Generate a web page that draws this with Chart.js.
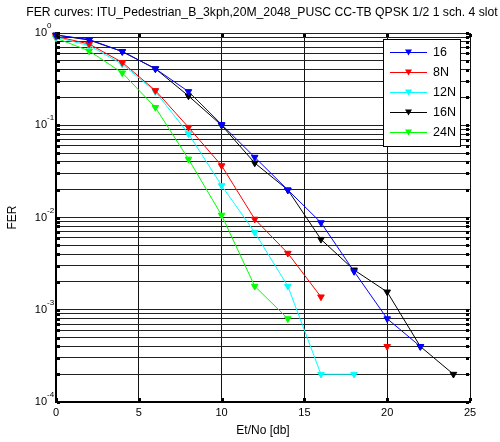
<!DOCTYPE html>
<html>
<head>
<meta charset="utf-8">
<script src="https://cdn.jsdelivr.net/npm/chart.js@4.4.0/dist/chart.umd.min.js"></script>
<style>
  html, body { margin: 0; padding: 0; background: #fff; }
  #wrap { width: 500px; height: 442px; }
</style>
</head>
<body>
<div id="wrap"><canvas id="fer" width="500" height="442"></canvas></div>
<script>
// Et/No points (dB)
const etno = [0, 2, 4, 6, 8, 10, 12, 14, 16, 18, 20, 22, 24];

// FER, null = no point
const fer16  = [0.95, 0.85, 0.63, 0.41, 0.232, 0.102, 0.045, 0.0199, 0.0088, 0.0026, 0.0008, 0.0004, null];
const fer8N  = [0.92, 0.76, 0.48, 0.238, 0.095, 0.0365, 0.0096, 0.0041, 0.00138, null, 0.0004, null, null];
const fer12N = [0.90, 0.73, 0.46, 0.232, 0.081, 0.0222, 0.0069, 0.0018, 0.0002, 0.0002, null, null, null];
const fer16N = [0.95, 0.84, 0.63, 0.41, 0.208, 0.100, 0.039, 0.0199, 0.0058, 0.0027, 0.00156, 0.0004, 0.0002];
const fer24N = [0.88, 0.64, 0.37, 0.156, 0.043, 0.0106, 0.0018, 0.0008, null, null, null, null, null];

const seriesNames = ["16", "8N", "12N", "16N", "24N"];
const seriesColors = ["#0000ff", "#ff0000", "#00ffff", "#000000", "#00ff00"];
const seriesData = [fer16, fer8N, fer12N, fer16N, fer24N];

const xTicks = [0, 5, 10, 15, 20, 25];
const yDecades = [-4, -3, -2, -1, 0];

const titleText = "FER curves: ITU_Pedestrian_B_3kph,20M_2048_PUSC CC-TB QPSK 1/2 1 sch. 4 slot";

// minor log ticks 1..9 per decade
let yTicks = [];
for (let d = -4; d < 0; d++) {
    for (let m = 1; m < 10; m++) yTicks.push(m * Math.pow(10, d));
}
yTicks.push(1);

const font = "Liberation Sans, Arial, sans-serif";

let datasets = [];
for (let i = 0; i < seriesNames.length; i++) {
    let pts = [];
    for (let j = 0; j < etno.length; j++) {
        pts.push({x: etno[j], y: seriesData[i][j]});
    }
    datasets.push({
        label: seriesNames[i],
        data: pts,
        borderColor: seriesColors[i],
        backgroundColor: seriesColors[i],
        borderWidth: 1,
        pointStyle: 'triangle',
        rotation: 180,
        pointRadius: 3.8,
        pointBorderWidth: 1,
        spanGaps: false,
        tension: 0,
        clip: false
    });
}

// labels, ticks and legend drawn in matlab style
const matlabDecor = {
    id: 'matlabDecor',
    afterDraw(chart) {
        const ctx = chart.ctx;
        const a = chart.chartArea;
        const xs = chart.scales.x, ys = chart.scales.y;
        ctx.save();
        ctx.fillStyle = '#000';

        // tick marks inside the box
        yTicks.forEach(v => {
            let p = Math.round(ys.getPixelForValue(v));
            ctx.fillRect(a.left + 1, p - 1, 3, 3);
            ctx.fillRect(a.right - 4, p - 1, 3, 3);
        });
        xTicks.forEach(v => {
            let p = Math.round(xs.getPixelForValue(v));
            ctx.fillRect(p - 1, a.bottom - 4, 3, 3);
            ctx.fillRect(p - 1, a.top + 1, 3, 3);
        });

        // x tick labels
        ctx.font = "11px " + font;
        ctx.textAlign = 'center';
        ctx.textBaseline = 'middle';
        xTicks.forEach(v => {
            ctx.fillText(String(v), xs.getPixelForValue(v), a.bottom + 11);
        });

        // y decade labels
        yDecades.forEach(e => {
            let p = ys.getPixelForValue(Math.pow(10, e));
            ctx.font = "11px " + font;
            ctx.textAlign = 'right';
            ctx.fillText("10", a.left - 9, p);
            ctx.font = "8px " + font;
            ctx.textAlign = 'left';
            ctx.fillText(e === 0 ? "0" : "-" + (-e), a.left - 9, p - 7);
        });

        // axis titles
        ctx.font = "12px " + font;
        ctx.textAlign = 'center';
        ctx.fillText("Et/No [db]", (a.left + a.right) / 2, a.bottom + 29);
        ctx.save();
        ctx.translate(13, (a.top + a.bottom) / 2);
        ctx.rotate(-Math.PI / 2);
        ctx.fillText("FER", 0, 0);
        ctx.restore();

        // title
        ctx.font = "12.2px " + font;
        ctx.fillText(titleText, (a.left + a.right) / 2 - 1, 13);

        // legend box
        const lx = 383, ly = 39, lw = 77, lh = 107;
        ctx.fillStyle = '#fff';
        ctx.fillRect(lx, ly, lw, lh);
        ctx.strokeStyle = '#000';
        ctx.lineWidth = 1;
        ctx.strokeRect(lx + 0.5, ly + 0.5, lw, lh);
        chart.data.datasets.forEach((ds, i) => {
            let yy = ly + 13.5 + i * 20;
            ctx.strokeStyle = ds.borderColor;
            ctx.beginPath();
            ctx.moveTo(lx + 7, yy);
            ctx.lineTo(lx + 44, yy);
            ctx.stroke();
            ctx.fillStyle = ds.borderColor;
            ctx.beginPath();
            ctx.moveTo(lx + 22, yy - 3);
            ctx.lineTo(lx + 29, yy - 3);
            ctx.lineTo(lx + 25.5, yy + 3);
            ctx.closePath();
            ctx.fill();
            ctx.fillStyle = '#000';
            ctx.font = "12.5px " + font;
            ctx.textAlign = 'left';
            ctx.fillText(ds.label, lx + 50, yy);
        });
        ctx.restore();
    }
};

new Chart(document.getElementById('fer'), {
    type: 'line',
    data: {datasets: datasets},
    options: {
        responsive: false,
        animation: false,
        layout: {padding: {left: 56, right: 30, top: 33, bottom: 40}},
        plugins: {legend: {display: false}, title: {display: false}, tooltip: {enabled: false}},
        scales: {
            x: {
                type: 'linear',
                min: 0,
                max: 25,
                afterBuildTicks: (s) => { s.ticks = xTicks.map(v => ({value: v})); },
                ticks: {display: false},
                grid: {color: '#111', lineWidth: 1, drawTicks: false, tickLength: 0},
                border: {display: true, color: '#000', width: 2}
            },
            y: {
                type: 'logarithmic',
                min: 1e-4,
                max: 1,
                afterBuildTicks: (s) => { s.ticks = yTicks.map(v => ({value: v})); },
                ticks: {display: false},
                grid: {color: '#222', lineWidth: 1, drawTicks: false, tickLength: 0},
                border: {display: true, color: '#000', width: 2}
            }
        }
    },
    plugins: [matlabDecor]
});
</script>
</body>
</html>
